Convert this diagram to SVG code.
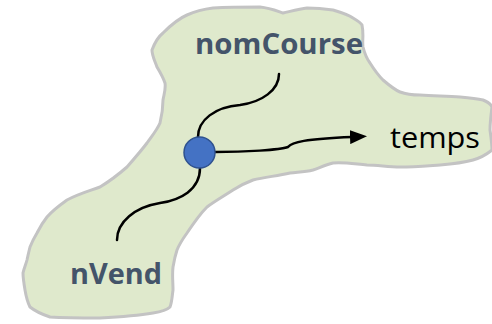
<svg xmlns="http://www.w3.org/2000/svg" width="492" height="324" viewBox="0 0 492 324">
  <style>
    .blob { fill: #DFE9CC; stroke: #C3C3C3; stroke-width: 3; stroke-linejoin: round; }
    .lbl { font-family: "Open Sans", "Liberation Sans", sans-serif; font-weight: bold; fill: #44546A; font-size: 29px; }
    .out { font-family: "Open Sans", "Liberation Sans", sans-serif; fill: #000; font-size: 30px; }
    .wire { fill: none; stroke: #000; stroke-width: 2.5; stroke-linecap: round; }
    .dot { fill: #4472C4; stroke: #2F528F; stroke-width: 1.5; }
  </style>
  <defs>
    <marker id="head" markerWidth="17" markerHeight="14" refX="2" refY="7" orient="auto" markerUnits="userSpaceOnUse">
      <path d="M0,0 L17,7 L0,14 Z" fill="#000"/>
    </marker>
  </defs>

  <!-- hand-drawn region -->
  <g id="region">
    <path class="blob" d="M152,50 C155,42 158,37 163,33 C172,24 180,18 187,15 C198,10 205,9 213,8 C230,7 245,7 260,7 C270,8 277,11 283,13 C292,11 300,9 307,8 C318,8 326,9 333,10 C343,13 349,15 353,18 C358,21 361,23 362,25 C364,35 362,41 363,47 C365,55 367,59 370,63 C375,71 378,75 383,80 C390,86 395,90 400,92 C408,95 414,95 420,95 C435,96 447,96 460,97 C470,98 478,99 483,100 C488,102 491,104 492,107 C491,115 490,122 490,130 C491,137 492,144 492,150 C486,155 480,158 473,160 C462,163 452,164 440,165 C425,166 413,167 400,167 C388,167 378,165 367,165 C355,164 344,162 333,163 C325,165 319,168 313,170 C305,172 298,172 290,173 C277,176 265,177 253,180 C245,183 239,186 233,190 C224,196 215,201 207,207 C199,215 193,224 187,233 C182,240 179,245 177,250 C175,256 174,261 173,267 C172,275 173,282 173,290 C172,297 172,302 170,307 C166,311 160,312 153,313 C135,316 118,317 100,318 C83,318 66,318 50,317 C41,314 35,311 30,307 C27,301 26,296 25,290 C24,284 23,278 23,273 C24,268 26,264 27,260 C28,255 29,251 30,247 C32,242 34,238 37,233 C40,227 43,222 47,217 C53,210 60,205 67,200 C78,194 89,191 100,187 C110,181 119,174 127,167 C134,159 141,151 147,143 C152,136 157,130 160,123 C162,115 163,107 163,100 C164,94 166,89 165,83 C163,77 160,72 157,67 C155,61 152,56 152,50 Z"/>
  </g>

  <!-- connectors -->
  <g id="connectors">
    <path class="wire" d="M198,137 C198,120 215,107 240,105 C262,102 279,90 279,74"/>
    <path class="wire" d="M200,168 C200,190 180,200 160,203 C135,207 117,222 117,240"/>
    <path class="wire" d="M215,152 C245,152 280,150 288,147 C292,142 305,139 352,137" marker-end="url(#head)"/>
  </g>

  <g id="junction">
    <circle class="dot" cx="199.5" cy="152.5" r="15.5"/>
  </g>

  <g id="nomCourse">
    <text class="lbl" x="195" y="54" textLength="168" lengthAdjust="spacingAndGlyphs">nomCourse</text>
  </g>

  <g id="nVend">
    <text class="lbl" x="70" y="284" textLength="92" lengthAdjust="spacingAndGlyphs">nVend</text>
  </g>

  <g id="temps">
    <text class="out" x="390" y="148" textLength="90" lengthAdjust="spacingAndGlyphs">temps</text>
  </g>
</svg>
